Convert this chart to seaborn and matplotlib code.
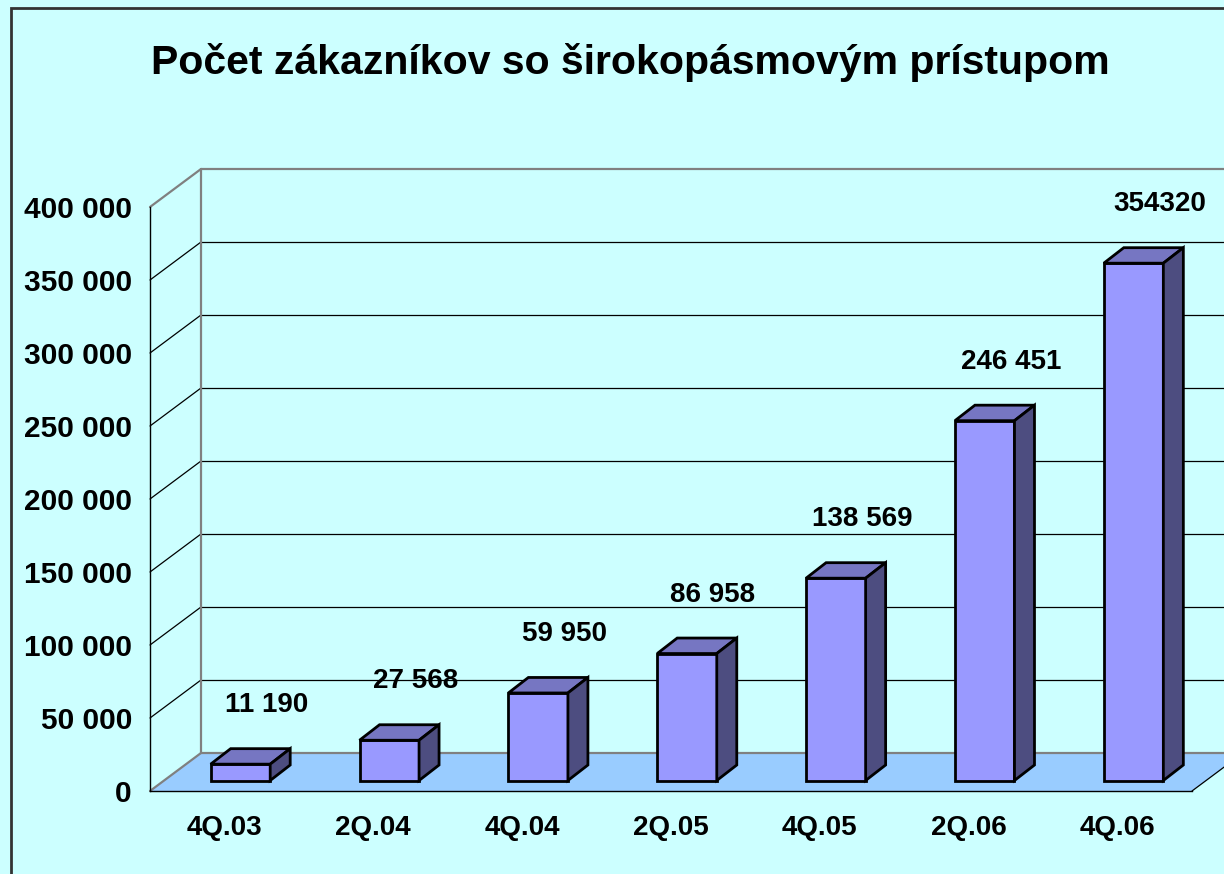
import matplotlib
matplotlib.use("Agg")
import matplotlib.pyplot as plt
import seaborn as sns
from matplotlib.patches import Polygon, Rectangle
from matplotlib.ticker import FixedLocator

# ---- data ----
categories = ["4Q.03", "2Q.04", "4Q.04", "2Q.05", "4Q.05", "2Q.06", "4Q.06"]
values = [11190, 27568, 59950, 86958, 138569, 246451, 354320]
value_labels = ["11 190", "27 568", "59 950", "86 958", "138 569", "246 451", "354320"]
y_ticks = [0, 50000, 100000, 150000, 200000, 250000, 300000, 350000, 400000]
y_tick_labels = ["0", "50 000", "100 000", "150 000", "200 000", "250 000",
                 "300 000", "350 000", "400 000"]
title = "Počet zákazníkov so širokopásmovým prístupom"

# ---- style ----
sns.set_theme(style="white")
plt.rcParams['font.family'] = ['Liberation Sans', 'DejaVu Sans']
plt.rcParams['font.weight'] = 'bold'

BG = "#CCFFFF"
FLOOR = "#99CCFF"
FRONT = "#9999FF"
TOP = "#7676C2"
SIDE = "#4D4D80"
WALL_EDGE = "#808080"

W, H = 1224, 874
fig = plt.figure(figsize=(W / 100, H / 100), dpi=100, facecolor=BG)

# front plane of the 3D box (pixel geometry)
ax_l, ax_r, ax_b, ax_t = 150, 1192, 791, 207
ax = fig.add_axes([ax_l / W, 1 - ax_b / H, (ax_r - ax_l) / W, (ax_b - ax_t) / H])
ax.set_facecolor("none")

ncat = len(categories)
ymax = y_ticks[-1]
px_x = ncat / (ax_r - ax_l)       # data units per pixel (x)
px_y = ymax / (ax_b - ax_t)       # data units per pixel (y)

# depth offsets
BX, BY = 51 * px_x, 38 * px_y        # back wall
OX, OY = 16 * px_x, 10.5 * px_y      # bar front face
DX, DY = 20 * px_x, 15.5 * px_y      # bar depth

x0, x1 = -0.5, ncat - 0.5

# bars (front faces through seaborn)
sns.barplot(x=categories, y=values, ax=ax, width=0.40, color=FRONT, saturation=1,
            edgecolor="black", linewidth=2, zorder=3)
bars = list(ax.patches)

# floor
ax.add_patch(Polygon([(x0, 0), (x1, 0), (x1 + BX, BY), (x0 + BX, BY)],
                     closed=True, facecolor=FLOOR, edgecolor="none", zorder=1, clip_on=False))
ax.plot([x1, x1 + BX], [0, BY], color="black", lw=0.9, zorder=2, clip_on=False)

# walls: gridlines
for v in y_ticks:
    edge = v in (y_ticks[0], y_ticks[-1])
    col = WALL_EDGE if edge else "black"
    lw = 1.6 if edge else 0.9
    ax.plot([x0, x0 + BX], [v, v + BY], color=col, lw=lw, zorder=2, clip_on=False)
    ax.plot([x0 + BX, x1 + BX], [v + BY, v + BY], color=col, lw=lw, zorder=2, clip_on=False)
ax.plot([x0 + BX, x0 + BX], [BY, ymax + BY], color=WALL_EDGE, lw=1.6, zorder=2, clip_on=False)

for p, v, lab in zip(bars, values, value_labels):
    bx, bw = p.get_x() + OX, p.get_width()
    p.set_x(bx)
    p.set_y(OY)
    p.set_zorder(4)
    p.set_clip_on(False)
    top = v + OY
    ax.add_patch(Polygon([(bx, top), (bx + bw, top), (bx + bw + DX, top + DY), (bx + DX, top + DY)],
                         closed=True, facecolor=TOP, edgecolor="black", lw=2, zorder=4,
                         clip_on=False, joinstyle="miter"))
    ax.add_patch(Polygon([(bx + bw, OY), (bx + bw, top), (bx + bw + DX, top + DY), (bx + bw + DX, OY + DY)],
                         closed=True, facecolor=SIDE, edgecolor="black", lw=2, zorder=4,
                         clip_on=False, joinstyle="miter"))
    ax.text(bx + bw / 2 + 26 * px_x, top + 59 * px_y, lab, ha="center", va="center",
            fontsize=20, fontweight="bold", color="black", clip_on=False, zorder=6)

# axes
ax.set_xlim(x0, x1)
ax.set_ylim(0, ymax)
ax.set_xlabel("")
ax.set_ylabel("")
for s in ["top", "right"]:
    ax.spines[s].set_visible(False)
for s in ["left", "bottom"]:
    ax.spines[s].set_color("black")
    ax.spines[s].set_linewidth(1.0)
    ax.spines[s].set_zorder(5)

ax.set_yticks(y_ticks)
ax.set_yticklabels(y_tick_labels)
ax.tick_params(axis="y", which="major", direction="out", length=5, width=1,
               color="black", pad=8, labelsize=21.5)
ax.set_xticks(range(ncat))
ax.set_xticklabels(categories)
ax.xaxis.set_minor_locator(FixedLocator([i - 0.5 for i in range(ncat + 1)]))
ax.tick_params(axis="x", which="major", length=0, pad=17, labelsize=20)
ax.tick_params(axis="x", which="minor", direction="out", length=6, width=1, color="black")
for t in ax.get_xticklabels() + ax.get_yticklabels():
    t.set_fontweight("bold")
    t.set_color("black")

# title
fig.text(630 / W, 1 - 63 / H, title, ha="center", va="center",
         fontsize=29.5, fontweight="bold", color="black")

# outer border (top and left visible)
fig.add_artist(Rectangle((11 / W, -0.05), 1.2, 1.05 - 7.5 / H, transform=fig.transFigure,
                         facecolor="none", edgecolor="#333333", lw=2))

fig.savefig("out.png", dpi=100, facecolor=BG)
